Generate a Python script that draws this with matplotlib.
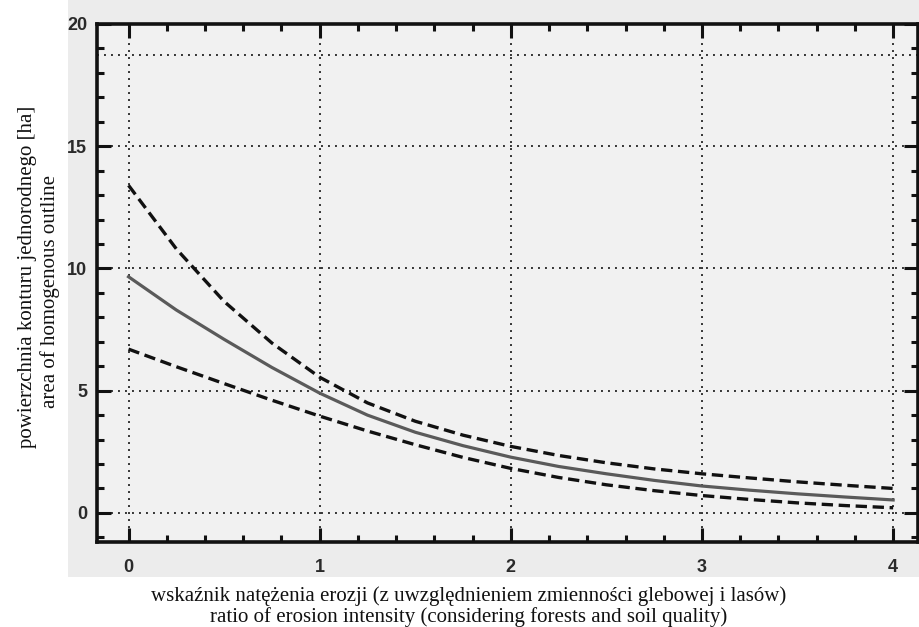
import matplotlib
matplotlib.use('Agg')
import matplotlib.pyplot as plt
from matplotlib.patches import Rectangle
from matplotlib.ticker import MultipleLocator

# values
x = [0, 0.25, 0.5, 0.75, 1, 1.25, 1.5, 1.75, 2,
     2.25, 2.5, 2.75, 3, 3.25, 3.5, 3.75, 4]
upper = [13.4, 10.8, 8.65, 6.95, 5.55, 4.5, 3.75, 3.18, 2.72,
         2.35, 2.05, 1.8, 1.6, 1.43, 1.27, 1.13, 1.0]
mean = [9.66, 8.3, 7.1, 5.95, 4.9, 4.0, 3.3, 2.75, 2.28,
        1.9, 1.6, 1.33, 1.1, 0.93, 0.78, 0.65, 0.53]
lower = [6.7, 5.98, 5.29, 4.61, 3.96, 3.35, 2.79, 2.27, 1.82,
         1.45, 1.15, 0.91, 0.71, 0.55, 0.41, 0.3, 0.21]

xticks = [0, 1, 2, 3, 4]
yticks = [0, 5, 10, 15, 20]
ygrid = [0, 5, 10, 15, 18.75]

xlabel_pl = 'wskaźnik natężenia erozji (z uwzględnieniem zmienności glebowej i lasów)'
xlabel_en = 'ratio of erosion intensity (considering forests and soil quality)'
ylabel_pl = 'powierzchnia konturu jednorodnego [ha]'
ylabel_en = 'area of homogenous outline'

W, H = 919, 627
fig = plt.figure(figsize=(W / 100, H / 100), dpi=100)
fig.patch.set_facecolor('white')

# grey scanned area behind the plot
fig.patches.append(Rectangle((68 / W, 1 - 577 / H), 1 - 68 / W, 577 / H,
                             transform=fig.transFigure, facecolor='#ececec',
                             edgecolor='none', zorder=-10))

ax = fig.add_axes([97 / W, 1 - 542 / H, (918 - 97) / W, (542 - 24) / H])
ax.set_facecolor('#f1f1f1')

ax.plot(x, upper, color='#111111', lw=2.4, ls=(0, (3.4, 1.7)), zorder=3)
ax.plot(x, lower, color='#111111', lw=2.4, ls=(0, (3.4, 1.7)), zorder=3)
ax.plot(x, mean, color='#5a5a5a', lw=2.3, zorder=3)

ax.set_xlim(-0.165, 4.13)
ax.set_ylim(-1.19, 20)

grid_style = dict(color='#333333', lw=1.4, ls=(0, (1, 2.6)), zorder=1)
for gx in xticks:
    ax.axvline(gx, **grid_style)
for gy in ygrid:
    ax.axhline(gy, **grid_style)

ax.set_xticks(xticks)
ax.set_yticks(yticks)
ax.xaxis.set_minor_locator(MultipleLocator(0.2))
ax.yaxis.set_minor_locator(MultipleLocator(1))
ax.tick_params(which='both', direction='in', top=True, right=True,
               width=2.2, color='#111111')
ax.tick_params(which='major', length=10)
ax.tick_params(which='minor', length=5)
ax.tick_params(axis='x', which='major', pad=12)
ax.tick_params(axis='y', which='major', pad=7)
for lab in ax.get_xticklabels() + ax.get_yticklabels():
    lab.set_fontfamily('Liberation Sans')
    lab.set_fontsize(13)
    lab.set_fontweight('bold')
    lab.set_color('#2a2a2a')

for sp in ax.spines.values():
    sp.set_linewidth(2.6)
    sp.set_color('#111111')

serif = dict(family='Liberation Serif', fontsize=15, color='#111111',
             ha='center', va='center')
fig.text(469 / W, 1 - 596 / H, xlabel_pl, **serif)
fig.text(469 / W, 1 - 617 / H, xlabel_en, **serif)
fig.text(28 / W, 1 - 277 / H, ylabel_pl, rotation=90, **serif)
fig.text(50 / W, 1 - 291 / H, ylabel_en, rotation=90, **serif)

fig.savefig('out.png', dpi=100)
